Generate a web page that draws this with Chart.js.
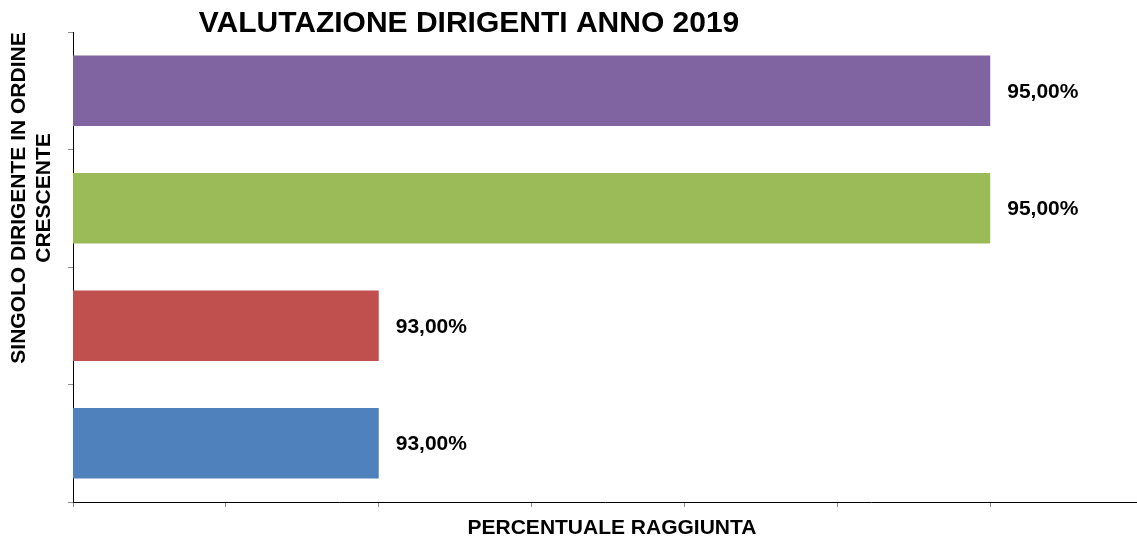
<!DOCTYPE html>
<html>
<head>
<meta charset="utf-8">
<script src="https://cdn.jsdelivr.net/npm/chart.js@4.4.1/dist/chart.umd.min.js"></script>
<style>
  html, body { margin: 0; padding: 0; background: #fff; overflow: hidden; }
  #wrap { width: 1137px; height: 539px; }
</style>
</head>
<body>
<div id="wrap"><canvas id="grafico"></canvas></div>
<script>
// dati (dal basso verso l'alto)
const dirigenti = ['1', '2', '3', '4'];
const punteggi = [93, 93, 95, 95];
const colori = ['#4F81BD', '#C0504D', '#9BBB59', '#8064A2'];
const etichette = ['93,00%', '93,00%', '95,00%', '95,00%'];

const titolo = 'VALUTAZIONE DIRIGENTI ANNO 2019';
const titoloY = ['SINGOLO DIRIGENTE IN ORDINE', 'CRESCENTE'];
const titoloX = 'PERCENTUALE RAGGIUNTA';

const FONT = "'Liberation Sans', Arial, sans-serif";

// plugin per titoli ed etichette dei valori
const testiPlugin = {
  id: 'testi',
  afterDatasetsDraw(chart) {
    const ctx = chart.ctx;
    const meta = chart.getDatasetMeta(0);
    ctx.save();
    ctx.fillStyle = '#000';
    ctx.font = 'bold 21px ' + FONT;
    ctx.textBaseline = 'middle';
    ctx.textAlign = 'left';
    meta.data.forEach((bar, i) => {
      ctx.fillText(etichette[i], bar.x + 17, bar.y + 1);
    });
    ctx.restore();
  },
  afterDraw(chart) {
    const ctx = chart.ctx;
    ctx.save();
    ctx.fillStyle = '#000';
    // titolo principale
    ctx.font = 'bold 30px ' + FONT;
    ctx.textAlign = 'center';
    ctx.textBaseline = 'alphabetic';
    ctx.fillText(titolo, 469, 32);
    // titolo asse X
    ctx.font = 'bold 21px ' + FONT;
    ctx.fillText(titoloX, 612, 534);
    // titolo asse Y (ruotato)
    const posY = [[19.5, 198], [44.5, 198]];
    titoloY.forEach((riga, i) => {
      ctx.save();
      ctx.translate(posY[i][0], posY[i][1]);
      ctx.rotate(-Math.PI / 2);
      ctx.textBaseline = 'middle';
      ctx.fillText(riga, 0, 0);
      ctx.restore();
    });
    ctx.restore();
  }
};

const ctx = document.getElementById('grafico').getContext('2d');

const cfg = {
  type: 'bar',
  data: {
    labels: dirigenti,
    datasets: [{
      label: 'Valutazione',
      data: punteggi,
      backgroundColor: colori,
      borderWidth: 0,
      barPercentage: 0.6,
      categoryPercentage: 1
    }]
  },
  options: {
    responsive: true,
    maintainAspectRatio: false,
    animation: false,
    indexAxis: 'y',
    layout: {
      padding: { left: 68, right: 0, top: 32, bottom: 32 }
    },
    plugins: {
      legend: { display: false },
      title: { display: false },
      tooltip: { enabled: false }
    },
    scales: {
      x: {
        min: 92,
        max: 95.48,
        afterBuildTicks(scale) {
          // solo i passi da 0,5
          scale.ticks = scale.ticks.filter(t => Math.abs(t.value * 2 - Math.round(t.value * 2)) < 1e-6);
        },
        ticks: { display: false, stepSize: 0.5 },
        grid: {
          drawOnChartArea: false,
          drawTicks: true,
          tickLength: 5,
          color: '#8c8c8c'
        },
        border: { display: true, color: '#000', width: 1 }
      },
      y: {
        reverse: true,
        ticks: { display: false },
        grid: {
          drawOnChartArea: false,
          drawTicks: true,
          tickLength: 5,
          offset: true,
          color: '#8c8c8c'
        },
        border: { display: true, color: '#000', width: 1 }
      }
    }
  },
  plugins: [testiPlugin]
};

const grafico = new Chart(ctx, cfg);
</script>
</body>
</html>
